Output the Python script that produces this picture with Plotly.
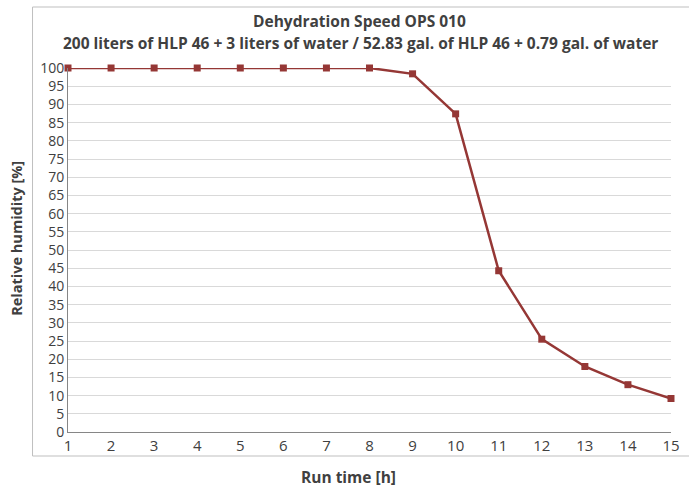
import plotly.graph_objects as go

run_time = list(range(1, 16))
humidity = [100, 100, 100, 100, 100, 100, 100, 100, 98.4, 87.4, 44.3, 25.5, 18.0, 13.0, 9.2]
y_ticks = list(range(0, 101, 5))

W, H = 689, 489
L, R, T, B = 68, 9, 68, 57
pw, ph = W - L - R, H - T - B

def px(x):
    return (x - L) / pw

def py(y):
    return (H - B - y) / ph

fig = go.Figure()
fig.add_trace(go.Scatter(
    x=run_time, y=humidity, mode="lines+markers",
    line=dict(color="#953735", width=2.5),
    marker=dict(symbol="square", size=7, color="#953735"),
    cliponaxis=False, showlegend=False,
))

font = "Open Sans, Noto Sans, sans-serif"
fig.update_layout(
    width=W, height=H,
    margin=dict(l=L, r=R, t=T, b=B),
    paper_bgcolor="white", plot_bgcolor="white",
    font=dict(family=font, color="#404040", size=13),
    xaxis=dict(range=[1, 15], tickmode="array", tickvals=run_time,
               ticktext=[str(v) for v in run_time], showgrid=False,
               showline=True, linecolor="#868686", linewidth=1,
               ticks="", zeroline=False, tickfont=dict(size=15, color="#404040")),
    yaxis=dict(range=[0, 100], tickmode="array", tickvals=y_ticks,
               showgrid=True, gridcolor="#d9d9d9", gridwidth=1,
               showline=True, linecolor="#868686", linewidth=1,
               ticks="", zeroline=False, tickfont=dict(size=14, color="#404040")),
)

fig.add_shape(type="rect", xref="paper", yref="paper",
              x0=px(32), x1=px(700), y0=py(456), y1=py(7),
              line=dict(color="#bfbfbf", width=1), fillcolor="rgba(0,0,0,0)", layer="below")

fig.add_annotation(text="<b>Dehydration Speed OPS 010</b>", xref="paper", yref="paper",
                   x=px(364), y=py(21), showarrow=False, xanchor="center", yanchor="middle",
                   font=dict(size=15.5, color="#404040", family=font))
fig.add_annotation(text="<b>200 liters of HLP 46 + 3 liters of water / 52.83 gal. of HLP 46 + 0.79 gal. of water</b>",
                   xref="paper", yref="paper",
                   x=px(365), y=py(43), showarrow=False, xanchor="center", yanchor="middle",
                   font=dict(size=15.5, color="#404040", family=font))
fig.add_annotation(text="<b>Relative humidity [%]</b>", xref="paper", yref="paper",
                   x=px(15), y=py(238), showarrow=False, textangle=-90,
                   xanchor="center", yanchor="middle",
                   font=dict(size=14.5, color="#404040", family=font))
fig.add_annotation(text="<b>Run time [h]</b>", xref="paper", yref="paper",
                   x=px(353), y=py(477), showarrow=False,
                   xanchor="center", yanchor="middle",
                   font=dict(size=15.5, color="#404040", family=font))

fig.write_html("out.html", config={"displayModeBar": False},
               post_script="document.body.style.margin='0';document.body.style.overflow='hidden';")
